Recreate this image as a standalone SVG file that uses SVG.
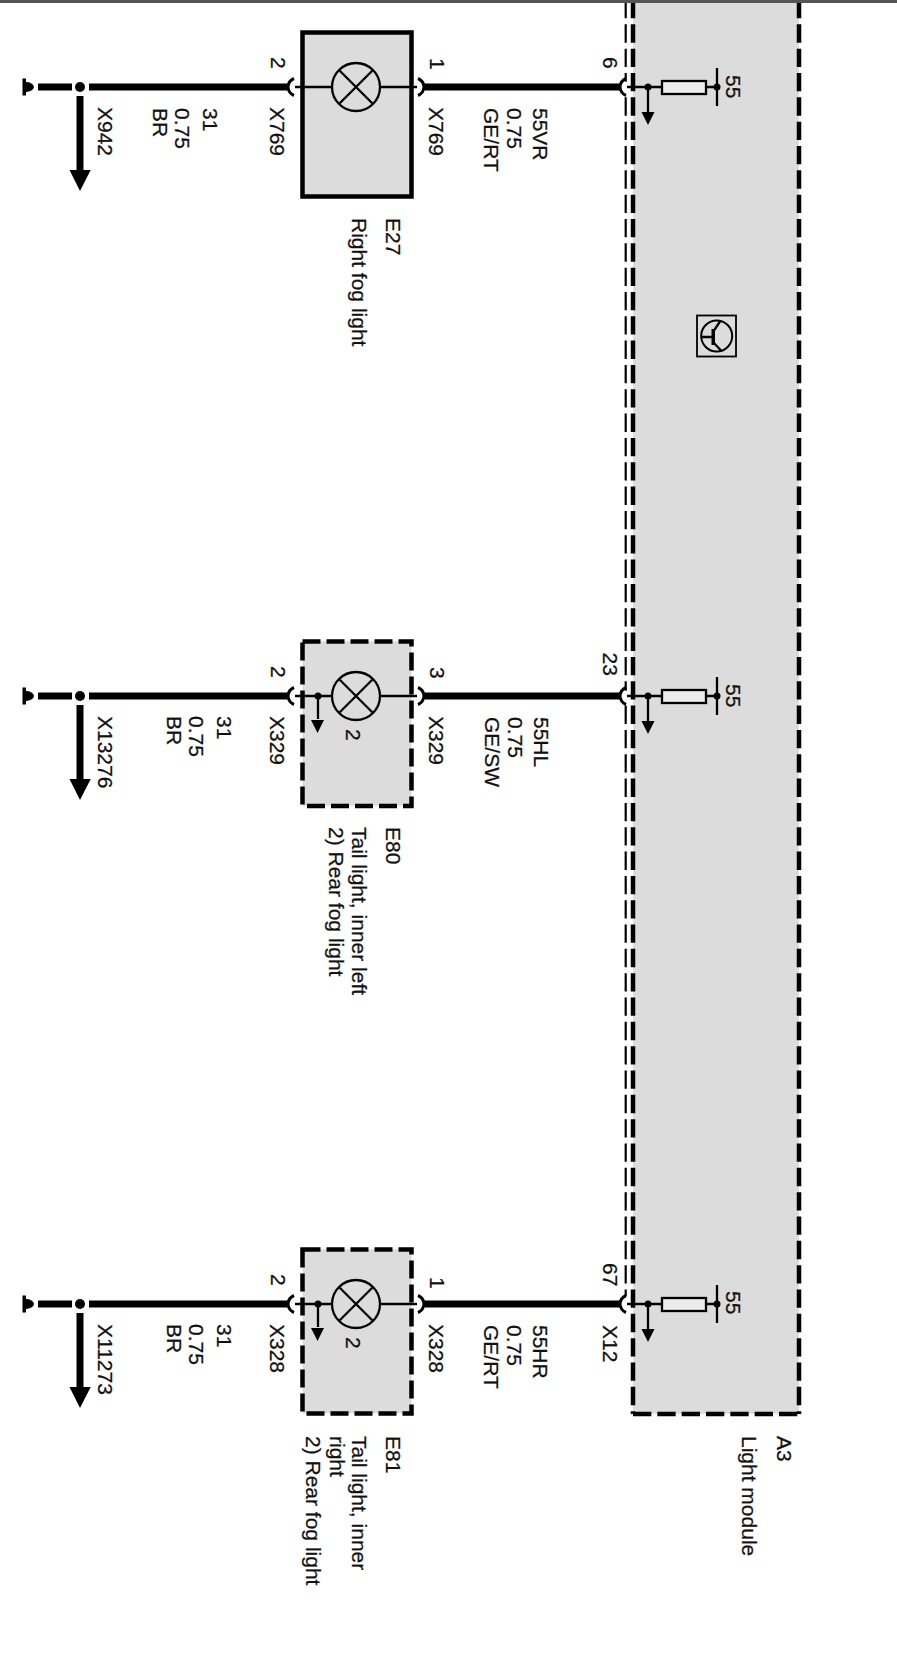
<svg xmlns="http://www.w3.org/2000/svg" width="897" height="1660" viewBox="0 0 897 1660">
<style>
text{font-family:"Liberation Sans",Arial,sans-serif;font-size:21px;fill:#111;stroke:#111;stroke-width:.25}
.wire{stroke:#000;stroke-width:7;fill:none}
.shaft{stroke:#000;stroke-width:7;fill:none}
.thin{stroke:#000;stroke-width:2.3;fill:none}
.solidbox{fill:#dcdcdc;stroke:#000;stroke-width:4.5}
.dashbox{fill:#dcdcdc;stroke:#000;stroke-width:4.5;stroke-dasharray:18 6}
.lamp{fill:#dcdcdc;stroke:#000;stroke-width:2.300}
.res{fill:#ececec;stroke:#000;stroke-width:2.300}
.pin{fill:#fff;stroke:none}
.arc{fill:none;stroke:#000;stroke-width:3}
.edge{fill:none;stroke:#000;stroke-width:4.5;stroke-dasharray:18.330 6}
.edge2{fill:none;stroke:#000;stroke-width:2.2;stroke-dasharray:18.330 6}
</style>
<defs>
<g id="lampglyph">
<circle class="lamp" r="24"/>
<path class="thin" d="M-17-17L17 17M-17 17L17-17"/>
</g>
<g id="ground">
<rect x="22.5" y="-8.5" width="3.5" height="17"/>
<path d="M26-5A8 5.500 0 0 1 34 0A8 5.500 0 0 1 26 5Z"/>
</g>
<g id="bigarrow">
<path d="M69.500 83H90.700L80 104Z"/>
</g>
<g id="smallarrow">
<path d="M-6.500 0H6.500L0 13Z"/>
</g>
<g id="pinL"><circle class="pin" cx="6" r="5.500"/><path class="arc" d="M7-8.500A10 10 0 0 0 1 0A10 10 0 0 0 7 8.500"/></g>
<g id="pinR"><circle class="pin" cx="-6" r="5.500"/><path class="arc" d="M-7-8.500A10 10 0 0 1-1 0A10 10 0 0 1-7 8.500"/></g>
</defs>
<rect width="897" height="1660" fill="#fff"/>
<rect id="top-rule" x="0" y="0" width="897" height="3" fill="#555"/>

<g id="A3">
<rect x="633" y="3" width="166" height="1411" fill="#dcdcdc"/>
<path class="edge" stroke-dashoffset="3" d="M799 3V1414"/>
<path class="edge" stroke-dashoffset="3" d="M633 3V1414"/>
<path class="edge" stroke-dasharray="18 6" d="M633 1414H799"/>
<path class="edge2" stroke-dashoffset="3" d="M625.700 3V1296"/>
<g id="A3-icon">
<rect x="697" y="315.500" width="39" height="41" fill="#dcdcdc" stroke="#000" stroke-width="1.800"/>
<circle cx="716.700" cy="336" r="15.500" fill="none" stroke="#000" stroke-width="2"/>
<path class="thin" d="M701.200 337H713M720 321.500L713 332M713 342L721 350.500"/>
<path d="M711.500 329H715V345H711.500Z"/>
</g>
<text transform="translate(776.700 1436) rotate(90)">A3</text>
<text transform="translate(741.700 1436) rotate(90)">Light module</text>
</g>

<g id="connectors">
<path class="wire" d="M38 87H72M89 87H288M425 87H620"/>
<path class="wire" d="M38 696H72M89 696H288M425 696H620"/>
<path class="wire" d="M38 1304H72M89 1304H288M425 1304H620"/>
<path class="shaft" d="M80 96V172M80 705V781M80 1313V1389"/>
</g>

<g id="row1-ground"><use href="#ground" y="87"/><circle cx="80" cy="87" r="5"/><use href="#bigarrow" y="87"/><text transform="translate(97.500 107) rotate(90)">X942</text></g>
<g id="row2-ground"><use href="#ground" y="696"/><circle cx="80" cy="696" r="5"/><use href="#bigarrow" y="696"/><text transform="translate(97.500 716) rotate(90)">X13276</text></g>
<g id="row3-ground"><use href="#ground" y="1304"/><circle cx="80" cy="1304" r="5"/><use href="#bigarrow" y="1304"/><text transform="translate(97.500 1324) rotate(90)">X11273</text></g>

<g id="E27">
<rect class="solidbox" x="302.500" y="32.500" width="109" height="164"/>
<use href="#pinL" x="287" y="87"/><use href="#pinR" x="425" y="87"/>
<path class="thin" d="M295 87H332M380 87H417"/>
<use href="#lampglyph" x="356" y="87"/>
<text transform="translate(386 218) rotate(90)">E27</text>
<text transform="translate(352 218) rotate(90)">Right fog light</text>
</g>
<g id="E80">
<rect class="dashbox" x="302.500" y="641.500" width="109" height="164.500"/>
<use href="#pinL" x="287" y="696"/><use href="#pinR" x="425" y="696"/>
<path class="thin" d="M295 696H332M380 696H417M318 696V719"/>
<circle cx="318" cy="696" r="3.500"/>
<use href="#smallarrow" x="317.500" y="720"/>
<use href="#lampglyph" x="356" y="696"/>
<text transform="translate(345.500 729) rotate(90)">2</text>
<text transform="translate(386 827) rotate(90)">E80</text>
<text transform="translate(351.500 827) rotate(90)">Tail light, inner left</text>
<text transform="translate(328.500 827) rotate(90)">2) Rear fog light</text>
</g>
<g id="E81">
<rect class="dashbox" x="302.500" y="1249.500" width="109" height="164"/>
<use href="#pinL" x="287" y="1304"/><use href="#pinR" x="425" y="1304"/>
<path class="thin" d="M295 1304H332M380 1304H417M318 1304V1327"/>
<circle cx="318" cy="1304" r="3.500"/>
<use href="#smallarrow" x="317.500" y="1328"/>
<use href="#lampglyph" x="356" y="1304"/>
<text transform="translate(345.500 1337) rotate(90)">2</text>
<text transform="translate(386 1436) rotate(90)">E81</text>
<text transform="translate(351.500 1436) rotate(90)">Tail light, inner</text>
<text transform="translate(329.500 1436) rotate(90)">right</text>
<text transform="translate(306 1436) rotate(90)">2) Rear fog light</text>
</g>

<g id="row1-labels">
<text transform="translate(271 57) rotate(90)">2</text>
<text transform="translate(270 107) rotate(90)">X769</text>
<text transform="translate(430 58) rotate(90)">1</text>
<text transform="translate(429 107) rotate(90)">X769</text>
<text transform="translate(203 108) rotate(90)">31</text>
<text transform="translate(175 108) rotate(90)">0.75</text>
<text transform="translate(153 108) rotate(90)">BR</text>
<text transform="translate(533 108) rotate(90)">55VR</text>
<text transform="translate(507 108) rotate(90)">0.75</text>
<text transform="translate(483.500 108) rotate(90)">GE/RT</text>
<text transform="translate(603 57) rotate(90)">6</text>
</g>
<g id="row2-labels">
<text transform="translate(271 666) rotate(90)">2</text>
<text transform="translate(270 716) rotate(90)">X329</text>
<text transform="translate(430 667) rotate(90)">3</text>
<text transform="translate(429 716) rotate(90)">X329</text>
<text transform="translate(217 716) rotate(90)">31</text>
<text transform="translate(189 716) rotate(90)">0.75</text>
<text transform="translate(167 716) rotate(90)">BR</text>
<text transform="translate(533.500 717) rotate(90)">55HL</text>
<text transform="translate(507.500 717) rotate(90)">0.75</text>
<text transform="translate(484.500 717) rotate(90)">GE/SW</text>
<text transform="translate(603 652.500) rotate(90)">23</text>
</g>
<g id="row3-labels">
<text transform="translate(271 1274) rotate(90)">2</text>
<text transform="translate(270 1324) rotate(90)">X328</text>
<text transform="translate(430 1277) rotate(90)">1</text>
<text transform="translate(429 1324) rotate(90)">X328</text>
<text transform="translate(217 1324) rotate(90)">31</text>
<text transform="translate(189 1324) rotate(90)">0.75</text>
<text transform="translate(167 1324) rotate(90)">BR</text>
<text transform="translate(533 1325) rotate(90)">55HR</text>
<text transform="translate(507 1325) rotate(90)">0.75</text>
<text transform="translate(484 1325) rotate(90)">GE/RT</text>
<text transform="translate(603 1263) rotate(90)">67</text>
<text transform="translate(603 1325) rotate(90)">X12</text>
</g>

<g id="pins-A3">
<use href="#pinL" x="619" y="87"/><use href="#pinL" x="619" y="696"/><use href="#pinL" x="619" y="1304"/>
</g>
<g id="A3-outputs">
<g id="output-6">
<path class="thin" d="M627 87H662M648 87V113"/><circle cx="648" cy="87" r="3.500"/><use href="#smallarrow" x="648" y="112"/>
<rect class="res" x="662" y="81" width="44" height="13"/><path class="thin" d="M706 87H717M717 68V106"/><circle cx="717" cy="87" r="3.500"/>
<text transform="translate(726 75) rotate(90)">55</text>
</g>
<g id="output-23">
<path class="thin" d="M627 696H662M648 696V722"/><circle cx="648" cy="696" r="3.500"/><use href="#smallarrow" x="648" y="721"/>
<rect class="res" x="662" y="690" width="44" height="13"/><path class="thin" d="M706 696H717M717 677V715"/><circle cx="717" cy="696" r="3.500"/>
<text transform="translate(726 684) rotate(90)">55</text>
</g>
<g id="output-67">
<path class="thin" d="M627 1304H662M648 1304V1330"/><circle cx="648" cy="1304" r="3.500"/><use href="#smallarrow" x="648" y="1329"/>
<rect class="res" x="662" y="1298" width="44" height="13"/><path class="thin" d="M706 1304H717M717 1285V1323"/><circle cx="717" cy="1304" r="3.500"/>
<text transform="translate(726 1291) rotate(90)">55</text>
</g>
</g>
</svg>
